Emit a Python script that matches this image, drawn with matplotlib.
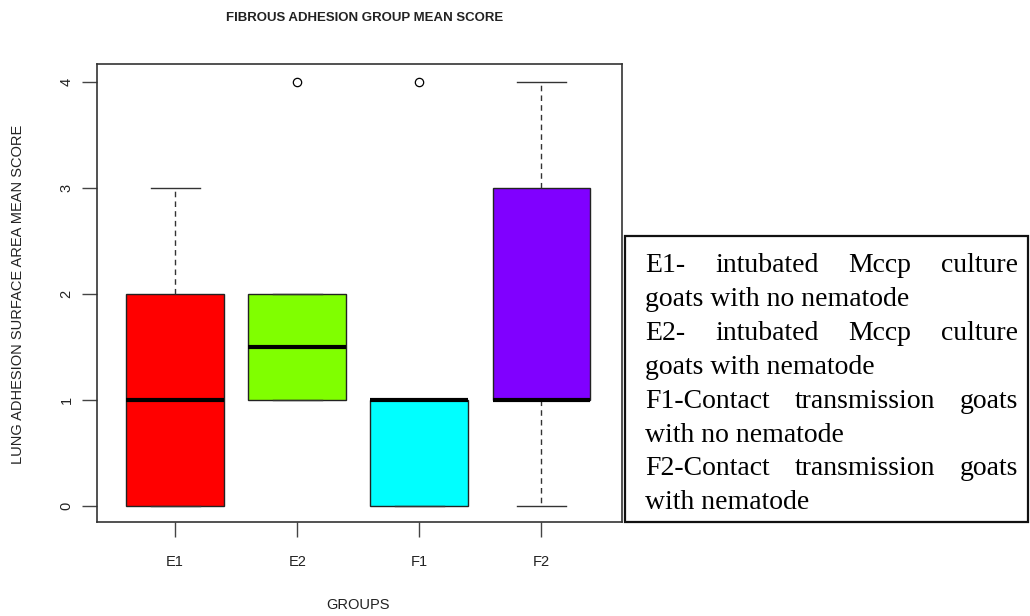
import matplotlib
matplotlib.use("Agg")
import matplotlib.pyplot as plt
from matplotlib.patches import Rectangle

# Group summary scores (boxplot five-number summaries and outliers)
groups = ["E1", "E2", "F1", "F2"]
whisker_low = [0, 1, 0, 0]
q1 = [0, 1, 0, 1]
median = [1, 1.5, 1, 1]
q3 = [2, 2, 1, 3]
whisker_high = [3, 2, 1, 4]
outliers = [[], [4], [4], []]
colors = ["#FF0000", "#80FF00", "#00FFFF", "#8000FF"]
yticks = [0, 1, 2, 3, 4]

legend_lines = [
    ("E1- intubated Mccp culture", True),
    ("goats with no nematode", False),
    ("E2- intubated Mccp culture", True),
    ("goats with nematode", False),
    ("F1-Contact transmission goats", True),
    ("with no nematode", False),
    ("F2-Contact transmission goats", True),
    ("with nematode", False),
]

W, H = 1030, 616
fig = plt.figure(figsize=(W / 100, H / 100), dpi=100)
ax = fig.add_axes([97 / W, 1 - 522 / H, (622 - 97) / W, (522 - 64) / H])

stats = []
for i, g in enumerate(groups):
    stats.append(dict(label=g, whislo=whisker_low[i], q1=q1[i], med=median[i],
                      q3=q3[i], whishi=whisker_high[i], fliers=outliers[i]))

frame_col = "#333333"
bp = ax.bxp(stats, positions=range(1, len(groups) + 1), widths=0.8,
            patch_artist=True, showfliers=True,
            boxprops=dict(edgecolor="#222222", linewidth=1.0),
            medianprops=dict(color="black", linewidth=3.0, solid_capstyle="butt"),
            whiskerprops=dict(color="#333333", linewidth=1.0, linestyle=(0, (4, 3))),
            capprops=dict(color="#333333", linewidth=1.0),
            flierprops=dict(marker="o", markerfacecolor="white",
                            markeredgecolor="black", markersize=6, markeredgewidth=0.9))
for patch, c in zip(bp["boxes"], colors):
    patch.set_facecolor(c)
for cap in bp["caps"]:
    x0, x1 = cap.get_xdata()
    xc = (x0 + x1) / 2
    cap.set_xdata([xc - 0.2, xc + 0.2])

ax.set_xlim(0.36, 4.66)
ax.set_ylim(-0.15, 4.17)
ax.set_yticks(yticks)
ax.set_yticklabels([str(v) for v in yticks], rotation=90, va="center",
                   fontsize=10.5, family="Liberation Sans", color="#222222")
ax.set_xticks(range(1, len(groups) + 1))
ax.set_xticklabels(groups, fontsize=10.5, family="Liberation Sans", color="#222222")
ax.tick_params(axis="both", length=11, width=1.0, color="#444444")
ax.tick_params(axis="y", pad=6)
ax.tick_params(axis="x", pad=13)
for s in ax.spines.values():
    s.set_color(frame_col)
    s.set_linewidth(1.2)

fig.text(365 / W, 1 - 18 / H, "FIBROUS ADHESION GROUP MEAN SCORE",
         ha="center", va="center", fontsize=9.5, fontweight="bold",
         family="Liberation Sans", color="#222222")
fig.text(18 / W, 1 - 294 / H, "LUNG ADHESION SURFACE AREA MEAN SCORE",
         ha="center", va="center", rotation=90, fontsize=10.5,
         family="Liberation Sans", color="#222222")
fig.text(358 / W, 1 - 605 / H, "GROUPS", ha="center", va="center",
         fontsize=10.5, family="Liberation Sans", color="#222222")

# Description box with justified text
fig.patches.append(Rectangle((625 / W, 1 - 522 / H), (1028 - 625) / W, (522 - 236) / H,
                             transform=fig.transFigure, fill=False,
                             edgecolor="#111111", linewidth=1.6))
renderer = fig.canvas.get_renderer()
left_px, right_px = 645, 1018
base0, step = 272, 33.9
fs = 20
for i, (line, justify) in enumerate(legend_lines):
    y = 1 - (base0 + i * step) / H
    words = line.split(" ")
    if not justify:
        fig.text(left_px / W, y, line, ha="left", va="baseline", fontsize=fs,
                 family="Liberation Serif", color="black")
        continue
    objs = [fig.text(0, y, w, ha="left", va="baseline", fontsize=fs,
                     family="Liberation Serif", color="black") for w in words]
    widths = [o.get_window_extent(renderer).width for o in objs]
    gap = (right_px - left_px - sum(widths)) / (len(words) - 1)
    x = left_px
    for o, wd in zip(objs, widths):
        o.set_x(x / W)
        x += wd + gap

fig.savefig("out.png", dpi=100)
